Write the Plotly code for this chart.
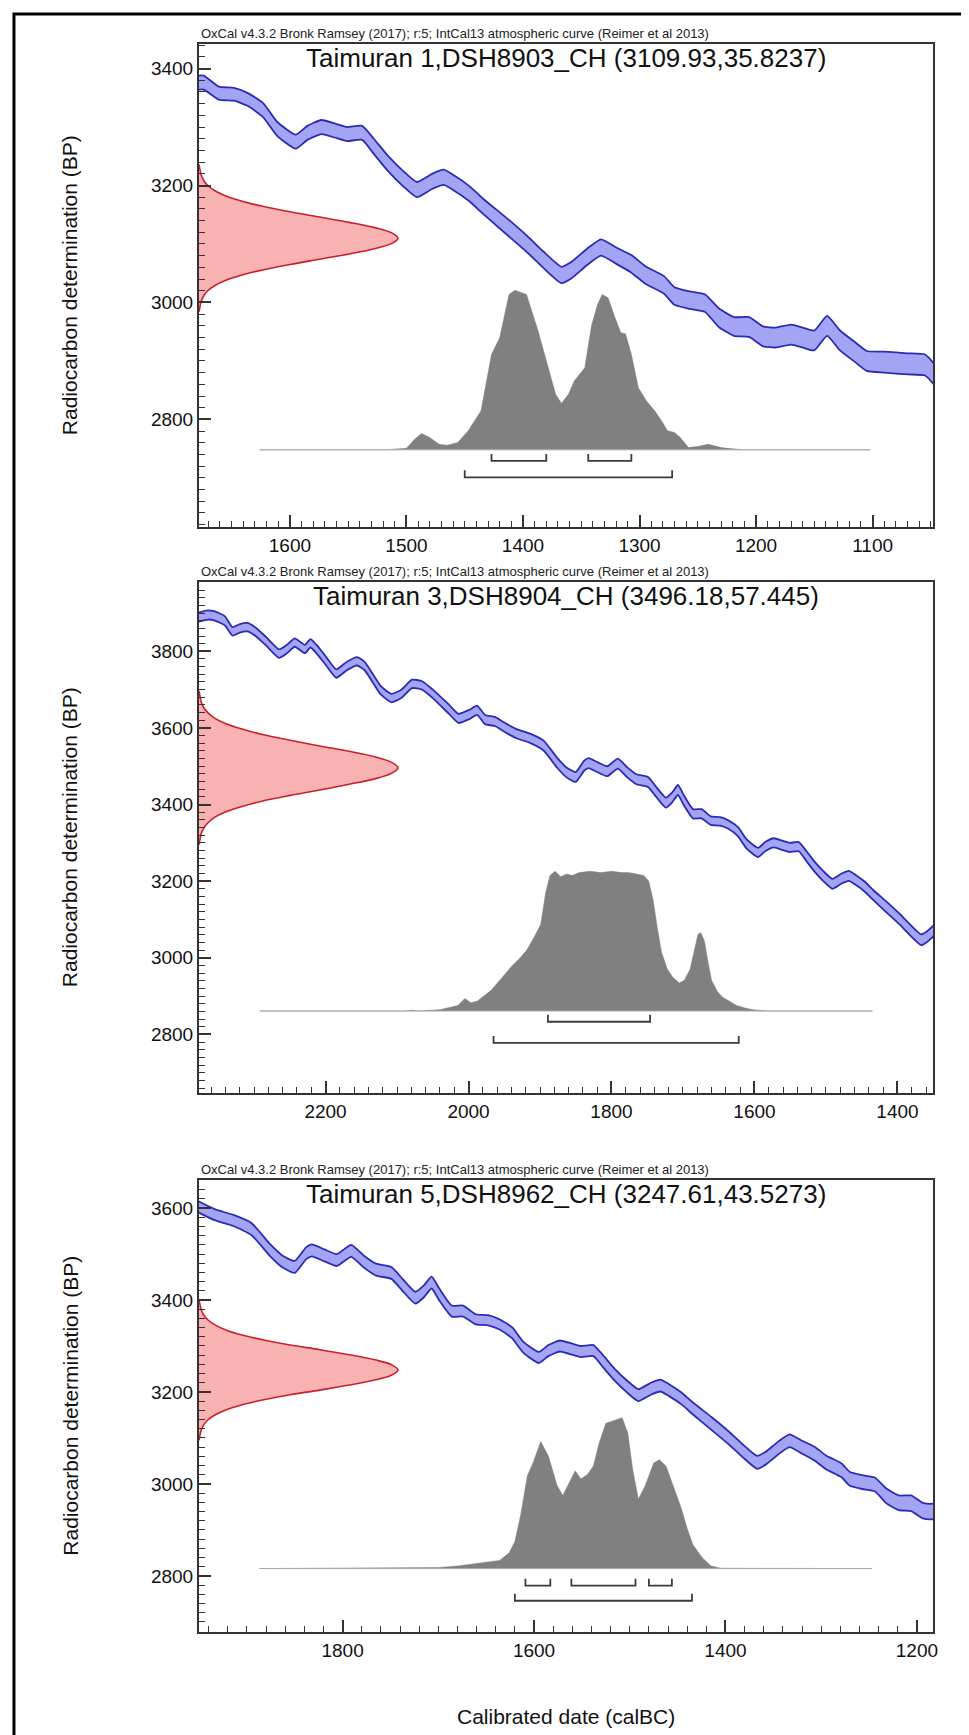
import plotly.graph_objects as go

W, H = 969, 1735

# ---------------- data ----------------
OXCAL = "OxCal v4.3.2 Bronk Ramsey (2017); r:5; IntCal13 atmospheric curve (Reimer et al 2013)"
X_TITLE = "Calibrated date (calBC)"
Y_TITLE = "Radiocarbon determination (BP)"

# IntCal13 curve (calBC, BP, 1-sigma)
CAL_YEAR = [2380, 2365, 2356, 2341, 2330, 2320, 2309, 2298, 2283, 2265, 2254, 2243, 2229, 2221, 2210,
            2199, 2185, 2170, 2156, 2145, 2123, 2108, 2094, 2079, 2065, 2050, 2028, 2014, 1999, 1988,
            1977, 1963, 1950, 1933, 1914, 1895, 1876, 1863, 1850, 1838, 1832, 1819, 1806, 1791, 1778,
            1765, 1749, 1737, 1724, 1715, 1707, 1699, 1686, 1674, 1661, 1648, 1636, 1623, 1611, 1595,
            1585, 1573, 1560, 1551, 1538, 1528, 1516, 1503, 1491, 1478, 1468, 1459, 1446, 1434, 1415,
            1396, 1383, 1367, 1358, 1345, 1333, 1320, 1307, 1295, 1279, 1270, 1257, 1244, 1232, 1219,
            1206, 1194, 1183, 1170, 1160, 1150, 1139, 1128, 1115, 1105, 1090, 1070, 1055, 1045]
CAL_BP = [3888, 3895, 3893, 3880, 3852, 3860, 3863, 3851, 3826, 3794, 3806, 3823, 3806, 3821, 3800,
          3774, 3742, 3762, 3774, 3761, 3699, 3678, 3689, 3715, 3711, 3689, 3650, 3625, 3635, 3646,
          3622, 3617, 3602, 3585, 3573, 3554, 3509, 3484, 3472, 3502, 3508, 3497, 3487, 3507, 3484,
          3466, 3459, 3432, 3405, 3419, 3438, 3412, 3376, 3376, 3358, 3356, 3347, 3329, 3297, 3275,
          3290, 3300, 3293, 3288, 3290, 3267, 3238, 3212, 3193, 3207, 3214, 3204, 3186, 3164, 3132,
          3099, 3074, 3047, 3056, 3078, 3094, 3080, 3066, 3047, 3030, 3011, 3004, 2999, 2974, 2959,
          2958, 2942, 2940, 2945, 2940, 2935, 2960, 2935, 2915, 2900, 2898, 2895, 2893, 2872]
CAL_SIG = [12, 12, 12, 12, 11, 11, 11, 11, 11, 11, 11, 11, 11, 11, 11,
           11, 11, 11, 11, 11, 11, 11, 11, 11, 11, 11, 12, 12, 12, 12,
           12, 12, 12, 12, 12, 13, 13, 13, 13, 13, 13, 13, 13, 13, 13,
           13, 13, 13, 13, 13, 13, 13, 12, 12, 11, 11, 11, 12, 12, 12,
           12, 12, 12, 12, 12, 13, 13, 13, 13, 13, 13, 13, 13, 13, 14,
           14, 14, 14, 14, 14, 14, 14, 15, 15, 15, 15, 15, 15, 16, 16,
           17, 17, 17, 17, 17, 17, 17, 17, 17, 17, 18, 18, 18, 18]

# relative width of the measured (red) distributions
RED_W = [0.0, 0.005, 0.011, 0.023, 0.044, 0.080, 0.135, 0.216, 0.325, 0.458, 0.607, 0.755, 0.883, 0.969, 1.0,
         0.969, 0.883, 0.755, 0.607, 0.458, 0.325, 0.216, 0.135, 0.080, 0.044, 0.023, 0.011, 0.005, 0.0]

# Sample 1
S1_TITLE = "Taimuran 1,DSH8903_CH (3109.93,35.8237)"
S1_RED_BP = [2984, 2993, 3002, 3011, 3020, 3029, 3038, 3047, 3056, 3065, 3074, 3083, 3092, 3101, 3110,
             3119, 3128, 3137, 3146, 3155, 3164, 3173, 3182, 3191, 3200, 3209, 3218, 3227, 3236]
S1_YEAR = [1626, 1518, 1500, 1493, 1487, 1480, 1472, 1465, 1456, 1447, 1436, 1427, 1420, 1412, 1407,
           1397, 1387, 1378, 1372, 1367, 1361, 1356, 1347, 1341, 1336, 1332, 1327, 1321, 1316, 1312,
           1307, 1301, 1294, 1287, 1281, 1276, 1270, 1265, 1258, 1250, 1241, 1230, 1212, 1102]
S1_PROB = [0, 0, 0.01, 0.066, 0.102, 0.077, 0.035, 0.029, 0.046, 0.119, 0.244, 0.598, 0.702, 0.973, 1.0,
           0.973, 0.744, 0.514, 0.348, 0.291, 0.348, 0.431, 0.514, 0.785, 0.91, 0.973, 0.952, 0.827, 0.733, 0.727,
           0.598, 0.389, 0.306, 0.244, 0.181, 0.119, 0.108, 0.077, 0.014, 0.021, 0.035, 0.014, 0, 0]
S1_R68 = [[1427, 1380], [1344, 1307]]
S1_R95 = [[1450, 1272]]

# Sample 3
S3_TITLE = "Taimuran 3,DSH8904_CH (3496.18,57.445)"
S3_RED_BP = [3295, 3309, 3324, 3338, 3352, 3367, 3381, 3395, 3410, 3424, 3438, 3453, 3467, 3482, 3496,
             3510, 3525, 3539, 3553, 3568, 3582, 3597, 3611, 3625, 3640, 3654, 3668, 3683, 3697]
S3_YEAR = [2292, 2090, 2080, 2070, 2040, 2015, 2005, 1997, 1988, 1978, 1968, 1958, 1948, 1938, 1928,
           1918, 1908, 1899, 1892, 1886, 1879, 1871, 1863, 1855, 1845, 1830, 1815, 1800, 1786, 1776,
           1765, 1755, 1748, 1742, 1736, 1730, 1722, 1714, 1705, 1698, 1690, 1684, 1679, 1675, 1670,
           1665, 1660, 1652, 1645, 1635, 1625, 1612, 1600, 1580, 1435]
S3_PROB = [0, 0, 0.006, 0, 0.01, 0.04, 0.09, 0.06, 0.07, 0.11, 0.15, 0.21, 0.27, 0.33, 0.38,
           0.44, 0.53, 0.62, 0.85, 0.97, 1.0, 0.96, 0.98, 0.97, 0.99, 1.0, 0.99, 1.0, 0.99, 0.99,
           0.98, 0.97, 0.93, 0.8, 0.6, 0.42, 0.3, 0.24, 0.2, 0.22, 0.3, 0.45, 0.55, 0.56, 0.5,
           0.35, 0.22, 0.14, 0.1, 0.07, 0.04, 0.02, 0.008, 0, 0]
S3_R68 = [[1889, 1746]]
S3_R95 = [[1965, 1622]]

# Sample 5
S5_TITLE = "Taimuran 5,DSH8962_CH (3247.61,43.5273)"
S5_RED_BP = [3095, 3106, 3117, 3128, 3139, 3150, 3161, 3172, 3183, 3194, 3204, 3215, 3226, 3237, 3248,
             3259, 3270, 3281, 3292, 3302, 3313, 3324, 3335, 3346, 3357, 3368, 3379, 3390, 3401]
S5_YEAR = [1887, 1737, 1699, 1680, 1661, 1648, 1636, 1626, 1620, 1614, 1607, 1601, 1593, 1585, 1576,
           1570, 1563, 1557, 1551, 1544, 1538, 1532, 1525, 1516, 1508, 1502, 1497, 1491, 1484, 1475,
           1469, 1462, 1453, 1446, 1440, 1434, 1424, 1415, 1405, 1352, 1247]
S5_PROB = [0, 0.002, 0.007, 0.017, 0.033, 0.039, 0.054, 0.104, 0.18, 0.354, 0.615, 0.702, 0.842, 0.746, 0.552,
           0.485, 0.572, 0.648, 0.593, 0.626, 0.68, 0.833, 0.963, 0.985, 1.0, 0.898, 0.659, 0.461, 0.548, 0.7,
           0.722, 0.678, 0.526, 0.396, 0.265, 0.157, 0.07, 0.017, 0.002, 0, 0]
S5_R68 = [[1609, 1583], [1561, 1494], [1480, 1456]]
S5_R95 = [[1620, 1435]]

SAMPLES = [
    dict(title=S1_TITLE, red=S1_RED_BP, year=S1_YEAR, prob=S1_PROB, r68=S1_R68, r95=S1_R95),
    dict(title=S3_TITLE, red=S3_RED_BP, year=S3_YEAR, prob=S3_PROB, r68=S3_R68, r95=S3_R95),
    dict(title=S5_TITLE, red=S5_RED_BP, year=S5_YEAR, prob=S5_PROB, r68=S5_R68, r95=S5_R95),
]

# ---------------- layout (pixel geometry) ----------------
PLOT_L, PLOT_R = 192, 930
PANELS = [
    dict(top=36, bottom=519, xr=[1678, 1048], yr=[2616, 3442], xdt=100, xmin=10,
         base=2748, height=273, y68=2729, y95=2701, tk=12),
    dict(top=574, bottom=1085, xr=[2377, 1350], yr=[2647, 3981], xdt=200, xmin=20,
         base=2861, height=365, y68=2833, y95=2778, tk=18),
    dict(top=1172, bottom=1624, xr=[1950, 1183], yr=[2678, 3661], xdt=200, xmin=20,
         base=2816, height=328, y68=2779, y95=2746, tk=15),
]
RED_TIP_PX = 392

FONT = "Liberation Sans, Arial, sans-serif"
AX_COLOR = "#333333"
BLUE_FILL = "#a4a4f4"
BLUE_LINE = "#2b2bb3"
RED_FILL = "#f8b2b2"
RED_LINE = "#c9202b"
GRAY = "#808080"

fig = go.Figure()
lower = [b - s for b, s in zip(CAL_BP, CAL_SIG)]
upper = [b + s for b, s in zip(CAL_BP, CAL_SIG)]

annotations = []
layout = {}
xdom = [PLOT_L / W, PLOT_R / W]
for i, (p, s) in enumerate(zip(PANELS, SAMPLES)):
    n = i + 1
    xa, ya, xo = f"x{n}", f"y{n}", f"x{n + 3}"
    ydom = [1 - p["bottom"] / H, 1 - p["top"] / H]
    common = dict(hoverinfo="skip", showlegend=False)

    # calibration curve band
    bl = dict(color=BLUE_LINE, width=1.8, shape="spline", smoothing=0.5)
    fig.add_trace(go.Scatter(x=CAL_YEAR, y=lower, mode="lines", line=bl, xaxis=xa, yaxis=ya, **common))
    fig.add_trace(go.Scatter(x=CAL_YEAR, y=upper, mode="lines", line=bl,
                             fill="tonexty", fillcolor=BLUE_FILL, xaxis=xa, yaxis=ya, **common))
    # calibrated distribution
    gy = [p["base"] + v * p["height"] for v in s["prob"]]
    fig.add_trace(go.Scatter(x=s["year"], y=gy, mode="lines", line=dict(color=GRAY, width=0.5),
                             fill="toself", fillcolor=GRAY, xaxis=xa, yaxis=ya, **common))
    fig.add_trace(go.Scatter(x=[s["year"][0], s["year"][-1]], y=[p["base"], p["base"]], mode="lines",
                             line=dict(color="#a8a8a8", width=1), xaxis=xa, yaxis=ya, **common))
    # range brackets
    bx, by = [], []
    for rngs, yl in ((s["r68"], p["y68"]), (s["r95"], p["y95"])):
        for a, b in rngs:
            bx += [a, a, b, b, None]
            by += [yl + p["tk"], yl, yl, yl + p["tk"], None]
    fig.add_trace(go.Scatter(x=bx, y=by, mode="lines", line=dict(color="#3c3c3c", width=1.8),
                             xaxis=xa, yaxis=ya, **common))
    # measured radiocarbon distribution
    fig.add_trace(go.Scatter(x=RED_W, y=s["red"], mode="lines", line=dict(color=RED_LINE, width=1.6, shape="spline"),
                             fill="tozerox", fillcolor=RED_FILL, xaxis=xo, yaxis=ya, **common))

    axcommon = dict(showline=True, linewidth=2, linecolor=AX_COLOR, mirror=True, showgrid=False,
                    zeroline=False, ticks="inside", ticklen=12, tickwidth=1.5, tickcolor=AX_COLOR,
                    tickfont=dict(family=FONT, size=19, color="#111111"), fixedrange=True)
    layout[f"xaxis{n}"] = dict(domain=xdom, anchor=ya, range=p["xr"], tickmode="linear", tick0=0,
                               dtick=p["xdt"],
                               minor=dict(dtick=p["xmin"], tick0=0, ticks="inside", ticklen=6,
                                          tickwidth=1.2, tickcolor=AX_COLOR),
                               **axcommon)
    layout[f"yaxis{n}"] = dict(domain=ydom, anchor=xa, range=p["yr"], tickmode="linear", tick0=0, dtick=200,
                               minor=dict(dtick=20, tick0=0, ticks="inside", ticklen=6,
                                          tickwidth=1.2, tickcolor=AX_COLOR),
                               **axcommon)
    tip_frac = (RED_TIP_PX - PLOT_L) / (PLOT_R - PLOT_L)
    layout[f"xaxis{n + 3}"] = dict(domain=xdom, overlaying=xa, anchor=ya, range=[0, 1 / tip_frac],
                                   visible=False, fixedrange=True)

    annotations.append(dict(text=OXCAL, x=PLOT_L / W, y=1 - (p["top"] - 1) / H, xref="paper", yref="paper",
                            xanchor="left", yanchor="bottom", showarrow=False,
                            font=dict(family=FONT, size=13, color="#222222")))
    annotations.append(dict(text=s["title"], x=(PLOT_L + PLOT_R) / 2 / W, y=1 - (p["top"] + 14) / H,
                            xref="paper", yref="paper", xanchor="center", yanchor="middle", showarrow=False,
                            font=dict(family=FONT, size=26, color="#111111")))
    annotations.append(dict(text=Y_TITLE, x=62 / W, y=1 - (p["top"] + p["bottom"]) / 2 / H,
                            xref="paper", yref="paper", xanchor="center", yanchor="middle", textangle=-90,
                            showarrow=False, font=dict(family=FONT, size=21, color="#111111")))

annotations.append(dict(text=X_TITLE, x=(PLOT_L + PLOT_R) / 2 / W, y=1 - 1708 / H, xref="paper", yref="paper",
                        xanchor="center", yanchor="middle", showarrow=False,
                        font=dict(family=FONT, size=21, color="#111111")))

fig.update_layout(width=W, height=H, autosize=False, margin=dict(l=0, r=0, t=0, b=0),
                  paper_bgcolor="white", plot_bgcolor="white", annotations=annotations,
                  shapes=[dict(type="rect", xref="paper", yref="paper", x0=6 / W, x1=963 / W,
                               y0=1 - 1730 / H, y1=1 - 6 / H, line=dict(color="black", width=3))],
                  **layout)

fig.write_html("out.html")
